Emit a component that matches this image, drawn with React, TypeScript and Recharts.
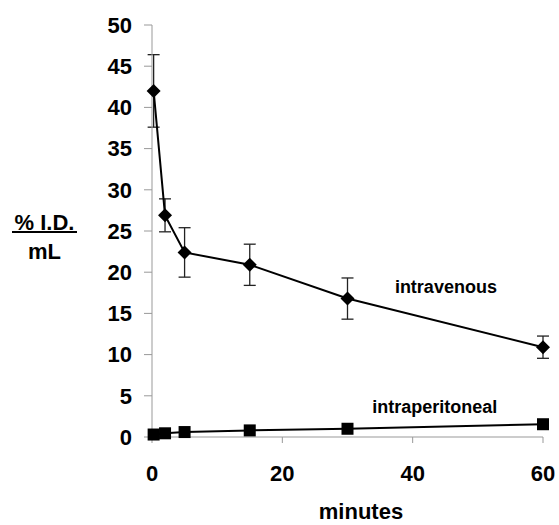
import { ComposedChart, ErrorBar, Line, ReferenceDot, XAxis, YAxis } from "recharts";

// time points (minutes after injection)
const minutes = [0.25, 2, 5, 15, 30, 60];
// intravenous, % I.D./mL, mean and SD
const ivMean = [42.0, 26.9, 22.4, 20.9, 16.8, 10.9];
const ivErr = [4.4, 2.0, 3.0, 2.5, 2.5, 1.35];
// intraperitoneal, % I.D./mL
const ipMean = [0.3, 0.45, 0.6, 0.8, 1.0, 1.55];

const xTicks = [0, 20, 40, 60];
const yTicks = [0, 5, 10, 15, 20, 25, 30, 35, 40, 45, 50];

const data = minutes.map((t, i) => ({
  t,
  iv: ivMean[i],
  ivErr: ivErr[i],
  ip: ipMean[i],
}));

const FONT = '"Liberation Sans", Arial, sans-serif';
const tickStyle = { fontSize: 22, fontWeight: "bold" as const, fill: "#000", fontFamily: FONT };

const Diamond = (props: any) => {
  const { cx, cy, index } = props;
  if (cx == null || cy == null) return <g key={`d${index}`} />;
  const r = 7;
  return (
    <path
      key={`d${index}`}
      d={`M${cx},${cy - r} L${cx + r},${cy} L${cx},${cy + r} L${cx - r},${cy} Z`}
      fill="#000"
    />
  );
};

const Square = (props: any) => {
  const { cx, cy, index } = props;
  if (cx == null || cy == null) return <g key={`s${index}`} />;
  const h = 6;
  return <rect key={`s${index}`} x={cx - h} y={cy - h} width={h * 2} height={h * 2} fill="#000" />;
};

export default function App() {
  return (
    <div style={{ position: "absolute", left: 0, top: 0, width: 559, height: 525, background: "#fff", fontFamily: FONT }}>
      <ComposedChart width={559} height={525} data={data} margin={{ top: 25, right: 16, left: 0, bottom: 0 }}>
        <XAxis
          dataKey="t"
          type="number"
          domain={[0, 60]}
          ticks={xTicks}
          height={88}
          stroke="#999"
          tickSize={6}
          tickMargin={22}
          tick={tickStyle}
          interval={0}
        />
        <YAxis
          type="number"
          domain={[0, 50]}
          ticks={yTicks}
          width={152}
          stroke="#999"
          tickSize={8}
          tickMargin={12}
          tick={tickStyle}
          interval={0}
        />
        <Line
          dataKey="iv"
          type="linear"
          stroke="#000"
          strokeWidth={2}
          dot={Diamond}
          activeDot={false}
          isAnimationActive={false}
        >
          <ErrorBar dataKey="ivErr" direction="y" width={6} stroke="#222" strokeWidth={1.3} isAnimationActive={false} />
        </Line>
        <Line
          dataKey="ip"
          type="linear"
          stroke="#000"
          strokeWidth={2}
          dot={Square}
          activeDot={false}
          isAnimationActive={false}
        />
        <ReferenceDot
          x={45.1}
          y={18.3}
          r={0}
          fill="none"
          stroke="none"
          ifOverflow="visible"
          label={{ value: "intravenous", position: "center", fontSize: 18, fontWeight: "bold", fill: "#000", fontFamily: FONT }}
        />
        <ReferenceDot
          x={43.4}
          y={3.7}
          r={0}
          fill="none"
          stroke="none"
          ifOverflow="visible"
          label={{ value: "intraperitoneal", position: "center", fontSize: 18, fontWeight: "bold", fill: "#000", fontFamily: FONT }}
        />
      </ComposedChart>

      {/* y axis title: % I.D. / mL */}
      <div
        style={{
          position: "absolute",
          left: 12,
          top: 212,
          width: 65,
          height: 19,
          lineHeight: "22px",
          fontSize: 22,
          fontWeight: "bold",
          textAlign: "center",
          borderBottom: "2px solid #000",
        }}
      >
        % I.D.
      </div>
      <div
        style={{
          position: "absolute",
          left: 12,
          top: 241,
          width: 65,
          lineHeight: "22px",
          fontSize: 22,
          fontWeight: "bold",
          textAlign: "center",
        }}
      >
        mL
      </div>

      {/* x axis title */}
      <div
        style={{
          position: "absolute",
          left: 261,
          top: 502,
          width: 200,
          lineHeight: "20px",
          fontSize: 22,
          fontWeight: "bold",
          textAlign: "center",
        }}
      >
        minutes
      </div>
    </div>
  );
}
